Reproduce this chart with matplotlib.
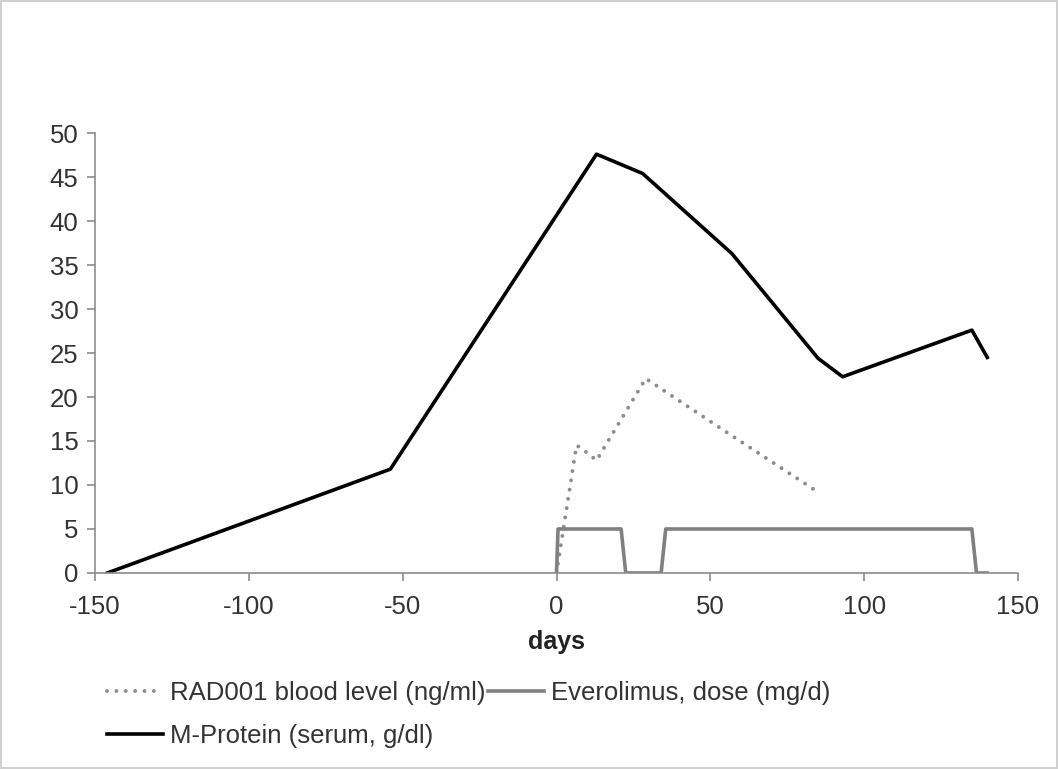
import matplotlib
matplotlib.use('Agg')
import matplotlib.pyplot as plt

plt.rcParams['font.family'] = ['Liberation Sans', 'DejaVu Sans']
plt.rcParams['axes.unicode_minus'] = False

# M-Protein (serum, g/dl)
mprot_days = [-146, -54, 13, 28, 57, 85, 93, 135, 140]
mprot_vals = [0, 11.8, 47.6, 45.4, 36.3, 24.4, 22.3, 27.6, 24.5]

# RAD001 blood level (ng/ml)
rad_days = [0, 6.5, 8, 13, 29, 57, 85]
rad_vals = [0, 14.5, 14.2, 12.8, 22.1, 15.6, 9.2]

# Everolimus dose (mg/d)
dose_days = [0, 0.5, 21, 22.5, 34, 35.5, 135, 136.5, 140]
dose_vals = [0, 5, 5, 0, 0, 5, 5, 0, 0]

fig = plt.figure(figsize=(10.58, 7.69), dpi=100)
fig.patch.set_edgecolor('#d0d0d0')
fig.patch.set_linewidth(1.5)
ax = fig.add_axes([0.0898, 0.2549, 0.8724, 0.5721])

l_rad, = ax.plot(rad_days, rad_vals, color='#8c8c8c', lw=2.8, ls=(0, (0.01, 2.4)),
                 dash_capstyle='round', label='RAD001 blood level (ng/ml)')
l_dose, = ax.plot(dose_days, dose_vals, color='#808080', lw=2.6,
                  label='Everolimus, dose (mg/d)')
l_mp, = ax.plot(mprot_days, mprot_vals, color='black', lw=2.6,
                label='M-Protein (serum, g/dl)')

ax.set_xlim(-150, 150)
ax.set_ylim(0, 50)
ax.set_xticks(range(-150, 151, 50))
ax.set_yticks(range(0, 51, 5))
for s in ['top', 'right']:
    ax.spines[s].set_visible(False)
for s in ['left', 'bottom']:
    ax.spines[s].set_color('#8c8c8c')
    ax.spines[s].set_linewidth(1.2)
ax.tick_params(colors='#8c8c8c', labelcolor='#333333', labelsize=18.5, length=6, width=1.2, direction='out')
ax.tick_params(axis='x', pad=10)
ax.tick_params(axis='y', pad=6)
ax.set_xlabel('days', fontsize=18, fontweight='bold', color='#222222', labelpad=8)

leg = fig.legend([l_rad, l_mp, l_dose],
                 [l_rad.get_label(), l_mp.get_label(), l_dose.get_label()],
                 loc='upper left', bbox_to_anchor=(0.101, 0.115), ncol=2, frameon=False,
                 fontsize=18.5, handlelength=2.2, handletextpad=0.25, columnspacing=0.1,
                 labelspacing=0.75, borderaxespad=0, borderpad=0)
for t in leg.get_texts():
    t.set_color('#333333')

fig.savefig('out.png', dpi=100, edgecolor=fig.get_edgecolor())
